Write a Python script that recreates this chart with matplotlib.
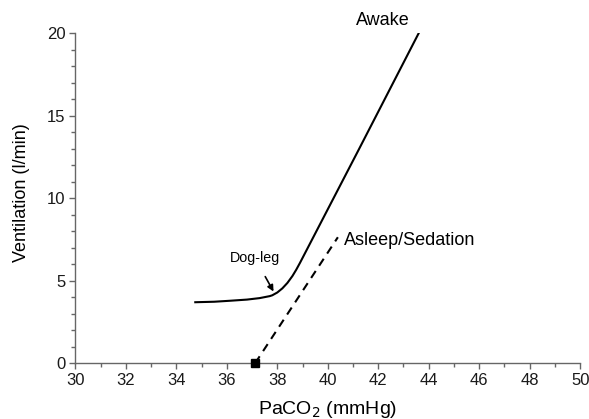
import numpy as np
import matplotlib
matplotlib.use("Agg")
import matplotlib.pyplot as plt
from matplotlib.ticker import MultipleLocator

plt.rcParams['font.family'] = ['Liberation Sans', 'DejaVu Sans']

# Awake curve
awake_x = [34.75, 35.5, 36.13, 36.8, 37.3, 37.5, 37.7, 37.8, 38.0, 38.2, 38.4, 38.6, 38.75,
           38.9, 41.22, 43.6]
awake_y = [3.70, 3.73, 3.79, 3.86, 3.95, 4.01, 4.07, 4.12, 4.29, 4.54, 4.87, 5.29, 5.67,
           6.09, 12.93, 20.0]

# Asleep / sedation line
asleep_x = [37.12, 40.4]
asleep_y = [0.0, 7.64]

fig = plt.figure(figsize=(5.89, 4.19), dpi=100)
ax = fig.add_axes([0.128, 0.133, 0.857, 0.7875])

ax.plot(awake_x, awake_y, color='black', lw=1.5)
ax.plot(asleep_x, asleep_y, color='black', lw=1.5, ls=(0, (4, 3)))
ax.plot([asleep_x[0]], [asleep_y[0]], marker='s', color='black', ms=6, clip_on=False, zorder=5)

ax.set_xlim(30, 50)
ax.set_ylim(0, 20)
ax.xaxis.set_major_locator(MultipleLocator(2))
ax.xaxis.set_minor_locator(MultipleLocator(1))
ax.yaxis.set_major_locator(MultipleLocator(5))
ax.yaxis.set_minor_locator(MultipleLocator(1))
ax.tick_params(which='major', length=4, width=1, color='#666666', labelsize=12, pad=3,
               labelcolor='#1a1a1a')
ax.tick_params(which='minor', length=3, width=1, color='#666666')
ax.spines['top'].set_visible(False)
ax.spines['right'].set_visible(False)
for s in ['left', 'bottom']:
    ax.spines[s].set_color('#666666')
    ax.spines[s].set_linewidth(1)

ax.set_xlabel('PaCO$_2$ (mmHg)', fontsize=14, va='center')
ax.xaxis.set_label_coords(0.5, -0.14)
ax.set_ylabel('Ventilation (l/min)', fontsize=13, va='center')
ax.yaxis.set_label_coords(-0.106, 0.516)

ax.text(42.2, 20.8, 'Awake', fontsize=13, ha='center', va='center', clip_on=False)
ax.text(40.65, 7.47, 'Asleep/Sedation', fontsize=13, ha='left', va='center')
ax.annotate('Dog-leg', xy=(37.85, 4.35), xytext=(37.12, 6.36), fontsize=10.3,
            ha='center', va='center',
            arrowprops=dict(arrowstyle='-|>', color='black', lw=1.2, mutation_scale=9,
                            shrinkA=7, shrinkB=0))

fig.savefig('out.png', dpi=100)
